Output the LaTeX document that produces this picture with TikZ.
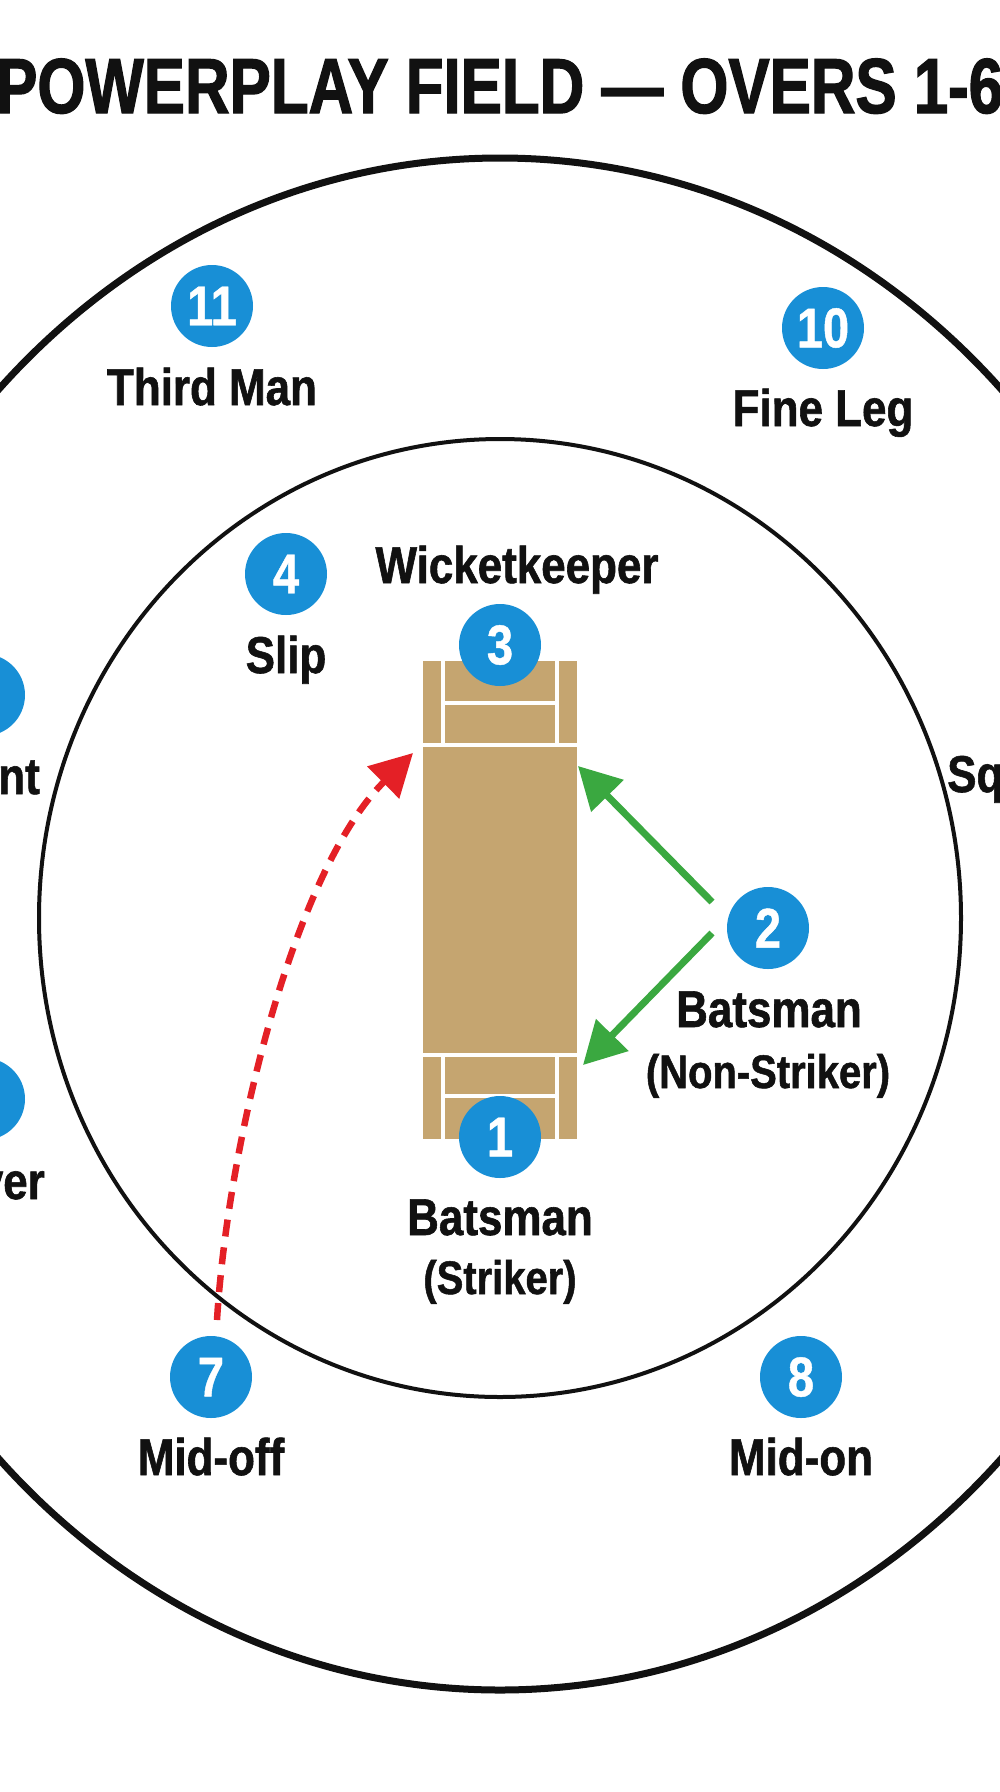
\documentclass[tikz,border=0pt]{standalone}
\usepackage{fontspec}
\setmainfont{Liberation Sans}
\newfontfamily\titlefont{Liberation Sans}[FakeStretch=0.792,FakeBold=1.6]
\newfontfamily\labfont{Liberation Sans}[FakeStretch=0.85,FakeBold=1.1]
\newfontfamily\numfont{Liberation Sans}[FakeStretch=0.84,FakeBold=0.8]
\usetikzlibrary{arrows.meta}
\definecolor{fblue}{RGB}{24,143,214}
\definecolor{pitchtan}{RGB}{197,165,112}
\definecolor{agreen}{RGB}{58,168,64}
\definecolor{ared}{RGB}{228,32,38}
\definecolor{ink}{RGB}{17,17,17}
\begin{document}
\begin{tikzpicture}[x=1pt,y=-1pt,
  fielder/.style={circle,fill=fblue,minimum size=82pt,inner sep=0pt,text=white,
    font=\numfont\bfseries\fontsize{56}{56}\selectfont},
  lab/.style={inner sep=0pt,anchor=base,text=ink,
    font=\labfont\bfseries\fontsize{51.7}{60}\selectfont},
  sublab/.style={inner sep=0pt,anchor=base,text=ink,
    font=\labfont\bfseries\fontsize{47}{50}\selectfont},
  pitchbox/.style={rectangle,fill=pitchtan,draw=none,inner sep=0pt,minimum width=154pt,minimum height=478pt},
  crease/.style={white,line width=4pt},
  boundary/.style={ink,line width=7pt},
  circleline/.style={ink,line width=4pt},
  run/.style={agreen,line width=7pt,-{Triangle[length=42pt,width=44pt]}},
  throw/.style={ared,line width=6.5pt,dash pattern=on 17pt off 11pt,-{Triangle[length=42pt,width=44pt]}}
]
\useasboundingbox (0,0) rectangle (1000,1792);
\fill[white] (0,0) rectangle (1000,1792);
\clip (0,0) rectangle (1000,1792);

% title
\node[anchor=base west,inner sep=0pt,text=ink,font=\titlefont\bfseries\fontsize{78}{80}\selectfont]
  (title) at (-4,113) {POWERPLAY FIELD — OVERS 1-6};

% boundary and 30-yard circle
\draw[boundary] (500,924) ellipse [x radius=700, y radius=766];
\draw[circleline] (500,918) ellipse [x radius=461, y radius=479];

% pitch
\node[pitchbox] (pitch) at (500,900) {};
\draw[crease] (443,703) -- (557,703);
\draw[crease] (423,745) -- (577,745);
\draw[crease] (443,661) -- (443,745);
\draw[crease] (557,661) -- (557,745);
\draw[crease] (423,1055) -- (577,1055);
\draw[crease] (443,1096) -- (557,1096);
\draw[crease] (443,1055) -- (443,1139);
\draw[crease] (557,1055) -- (557,1139);

% fielders
\node[fielder] (n11) at (212,306) {11};
\node[fielder] (n10) at (823,328) {10};
\node[fielder] (n4) at (286,574) {4};
\node[fielder] (n3) at (500,645) {3};
\node[fielder] (n2) at (768,928) {2};
\node[fielder] (n1) at (500,1137) {1};
\node[fielder] (n7) at (211,1377) {7};
\node[fielder] (n8) at (801,1377) {8};
\node[fielder] (n5) at (-16,695) {};
\node[fielder] (n6) at (-16,1099) {};

% labels
\node[lab] (l11) at (212,405) {Third Man};
\node[lab] (l10) at (823,426) {Fine Leg};
\node[lab] (l4) at (286,673) {Slip};
\node[lab] (l3) at (517,583) {Wicketkeeper};
\node[lab] (l2) at (769,1027) {Batsman};
\node[sublab] (l2b) at (768,1088) {(Non-Striker)};
\node[lab] (l1) at (500,1235) {Batsman};
\node[sublab] (l1b) at (500,1294) {(Striker)};
\node[lab] (l7) at (211,1475) {Mid-off};
\node[lab] (l8) at (801,1475) {Mid-on};
\node[lab,anchor=base east] (l5) at (40,794) {Point};
\node[lab,anchor=base east] (l6) at (45,1199) {Cover};
\node[lab,anchor=base west] (l9) at (947,792) {Square Leg};

% runs
\coordinate (gA0) at (712,902);
\coordinate (gA1) at (578,766);
\coordinate (gB0) at (712,933);
\coordinate (gB1) at (583,1065);
\draw[run] (gA0) -- (gA1);
\draw[run] (gB0) -- (gB1);

% throw
\coordinate (r0) at (217,1320);
\coordinate (r1) at (413,753);
\draw[throw] (r0) .. controls (228,1140) and (295,870) .. (r1);
\end{tikzpicture}
\end{document}
